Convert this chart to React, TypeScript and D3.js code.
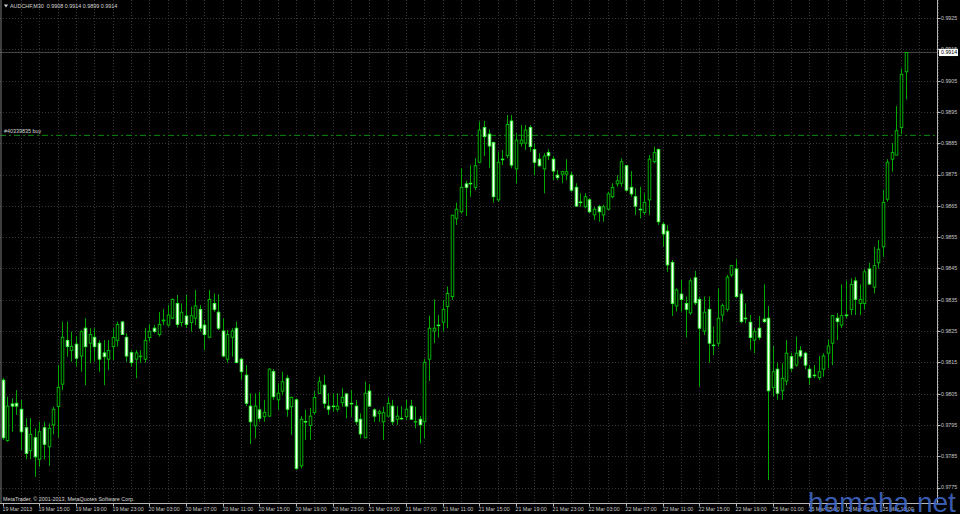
import React from 'react';
import * as d3 from 'd3';

const titleText = 'AUDCHF,M30  0.9908 0.9914 0.9899 0.9914';
const copyrightText = 'MetaTrader, © 2001-2013, MetaQuotes Software Corp.';
const orderLabel = '#40339835 buy';
const orderPrice = 0.98875;
const currentPrice = 0.9914;
const watermark = 'hamaha.net';

const priceTicks = [0.9775, 0.9785, 0.9795, 0.9805, 0.9815, 0.9825, 0.9835, 0.9845, 0.9855, 0.9865, 0.9875, 0.9885, 0.9895, 0.9905, 0.9915, 0.9925];

const timeLabels = ['19 Mar 2013', '19 Mar 15:00', '19 Mar 19:00', '19 Mar 23:00', '20 Mar 03:00', '20 Mar 07:00', '20 Mar 11:00', '20 Mar 15:00', '20 Mar 19:00', '20 Mar 23:00', '21 Mar 03:00', '21 Mar 07:00', '21 Mar 11:00', '21 Mar 15:00', '21 Mar 19:00', '21 Mar 23:00', '22 Mar 03:00', '22 Mar 07:00', '22 Mar 11:00', '22 Mar 15:00', '22 Mar 19:00', '25 Mar 01:00', '25 Mar 05:00', '25 Mar 09:00', '25 Mar 13:00'];
const timeLabelBars = [0, 8, 16, 24, 32, 40, 48, 56, 64, 72, 80, 88, 96, 104, 112, 120, 128, 136, 144, 152, 160, 168, 176, 184, 192];

const opens = [0.98093,0.97900,0.98017,0.98019,0.98000,0.97941,0.97868,0.97909,0.97840,0.97941,
0.97880,0.97950,0.98009,0.98080,0.98220,0.98188,0.98208,0.98170,0.98259,0.98211,
0.98230,0.98211,0.98180,0.98160,0.98200,0.98220,0.98279,0.98230,0.98181,0.98160,
0.98168,0.98160,0.98229,0.98259,0.98239,0.98282,0.98269,0.98291,0.98338,0.98277,
0.98298,0.98277,0.98291,0.98319,0.98269,0.98230,0.98338,0.98310,0.98250,0.98160,
0.98230,0.98259,0.98160,0.98109,0.98010,0.97947,0.97998,0.97976,0.97978,0.98120,
0.98030,0.98058,0.98099,0.98008,0.98030,0.97819,0.97961,0.97948,0.97990,0.98051,
0.98077,0.98010,0.98010,0.98000,0.98021,0.98049,0.98019,0.98010,0.97968,0.97909,
0.98058,0.97998,0.97986,0.97960,0.97978,0.98010,0.97968,0.97971,0.97976,0.98010,
0.97960,0.97968,0.97960,0.98160,0.98250,0.98269,0.98278,0.98328,0.98360,0.98610,
0.98631,0.98720,0.98722,0.98709,0.98789,0.98900,0.98879,0.98852,0.98669,0.98799,
0.98810,0.98921,0.98768,0.98850,0.98850,0.98900,0.98830,0.98799,0.98768,0.98820,
0.98799,0.98748,0.98751,0.98751,0.98748,0.98709,0.98662,0.98647,0.98669,0.98621,
0.98647,0.98621,0.98639,0.98679,0.98720,0.98722,0.98778,0.98709,0.98679,0.98639,
0.98629,0.98669,0.98791,0.98830,0.98591,0.98569,0.98469,0.98330,0.98368,0.98338,
0.98308,0.98420,0.98351,0.98250,0.98319,0.98205,0.98211,0.98301,0.98319,0.98429,
0.98448,0.98368,0.98291,0.98278,0.98221,0.98259,0.98288,0.98291,0.98069,0.98128,
0.98059,0.98090,0.98168,0.98141,0.98187,0.98179,0.98128,0.98109,0.98101,0.98128,
0.98179,0.98211,0.98291,0.98269,0.98301,0.98319,0.98410,0.98338,0.98338,0.98448,
0.98390,0.98468,0.98519,0.98671,0.98799,0.98812,0.98900,0.99078];

const highs = [0.98100,0.98040,0.98035,0.98061,0.98030,0.97971,0.97972,0.97939,0.97960,0.97960,
0.97955,0.98008,0.98141,0.98280,0.98280,0.98248,0.98234,0.98253,0.98291,0.98259,
0.98259,0.98221,0.98221,0.98221,0.98259,0.98280,0.98282,0.98243,0.98189,0.98189,
0.98189,0.98259,0.98271,0.98269,0.98311,0.98320,0.98333,0.98354,0.98365,0.98338,
0.98365,0.98328,0.98381,0.98333,0.98285,0.98381,0.98370,0.98367,0.98291,0.98253,
0.98259,0.98280,0.98163,0.98141,0.98051,0.98051,0.98056,0.98030,0.98131,0.98128,
0.98083,0.98120,0.98109,0.98040,0.98035,0.97978,0.97998,0.98004,0.98058,0.98104,
0.98109,0.98051,0.98051,0.98051,0.98067,0.98051,0.98061,0.98030,0.97987,0.98088,
0.98081,0.98003,0.97998,0.98008,0.98038,0.98030,0.98010,0.98010,0.98030,0.98030,
0.98008,0.97978,0.98161,0.98299,0.98351,0.98301,0.98349,0.98392,0.98621,0.98660,
0.98770,0.98730,0.98780,0.98802,0.98919,0.98922,0.98894,0.98855,0.98823,0.98828,
0.98940,0.98940,0.98882,0.98908,0.98908,0.98908,0.98850,0.98818,0.98818,0.98830,
0.98809,0.98764,0.98761,0.98799,0.98759,0.98722,0.98690,0.98690,0.98674,0.98647,
0.98653,0.98653,0.98695,0.98722,0.98748,0.98802,0.98780,0.98761,0.98706,0.98711,
0.98690,0.98812,0.98839,0.98833,0.98599,0.98589,0.98477,0.98386,0.98413,0.98360,
0.98418,0.98442,0.98360,0.98360,0.98360,0.98264,0.98386,0.98338,0.98429,0.98461,
0.98479,0.98381,0.98338,0.98301,0.98259,0.98298,0.98399,0.98330,0.98202,0.98149,
0.98147,0.98221,0.98181,0.98232,0.98202,0.98184,0.98141,0.98141,0.98170,0.98179,
0.98223,0.98301,0.98307,0.98399,0.98411,0.98418,0.98422,0.98399,0.98447,0.98468,
0.98519,0.98541,0.98700,0.98799,0.98850,0.98969,0.99089,0.99140];

const lows = [0.97902,0.97896,0.97928,0.97982,0.97870,0.97840,0.97841,0.97784,0.97816,0.97840,
0.97819,0.97920,0.97909,0.98061,0.98168,0.98152,0.98136,0.98120,0.98077,0.98147,
0.98152,0.98120,0.98077,0.98125,0.98157,0.98200,0.98237,0.98152,0.98136,0.98099,
0.98149,0.98149,0.98216,0.98243,0.98232,0.98269,0.98264,0.98288,0.98261,0.98264,
0.98259,0.98248,0.98269,0.98248,0.98189,0.98227,0.98312,0.98253,0.98168,0.98149,
0.98168,0.98147,0.98093,0.98010,0.97889,0.97907,0.97960,0.97960,0.97976,0.98030,
0.97998,0.98045,0.97976,0.97918,0.97806,0.97811,0.97902,0.97902,0.97982,0.98050,
0.98003,0.97982,0.97992,0.97992,0.98008,0.97971,0.97976,0.97950,0.97907,0.97907,
0.98008,0.97960,0.97960,0.97902,0.97976,0.97950,0.97950,0.97966,0.97966,0.97966,
0.97939,0.97891,0.97907,0.98091,0.98211,0.98229,0.98248,0.98259,0.98349,0.98589,
0.98626,0.98617,0.98679,0.98700,0.98786,0.98809,0.98770,0.98660,0.98663,0.98780,
0.98802,0.98770,0.98722,0.98839,0.98828,0.98823,0.98748,0.98775,0.98690,0.98796,
0.98732,0.98732,0.98722,0.98732,0.98695,0.98647,0.98647,0.98642,0.98626,0.98605,
0.98599,0.98599,0.98637,0.98674,0.98711,0.98711,0.98695,0.98679,0.98621,0.98610,
0.98621,0.98621,0.98786,0.98589,0.98519,0.98439,0.98298,0.98312,0.98312,0.98229,
0.98301,0.98333,0.98072,0.98237,0.98149,0.98173,0.98200,0.98280,0.98312,0.98423,
0.98354,0.98275,0.98275,0.98189,0.98179,0.98221,0.98275,0.97774,0.98040,0.98030,
0.98030,0.98077,0.98120,0.98136,0.98163,0.98128,0.98077,0.98099,0.98093,0.98104,
0.98131,0.98141,0.98221,0.98259,0.98291,0.98301,0.98301,0.98301,0.98319,0.98397,
0.98370,0.98450,0.98487,0.98663,0.98759,0.98812,0.98879,0.98990];

const closes = [0.97909,0.98010,0.98010,0.98010,0.97928,0.97859,0.97920,0.97848,0.97928,0.97888,
0.97939,0.98000,0.98070,0.98230,0.98200,0.98201,0.98163,0.98248,0.98200,0.98239,
0.98200,0.98160,0.98168,0.98188,0.98229,0.98271,0.98239,0.98170,0.98149,0.98180,
0.98170,0.98220,0.98249,0.98249,0.98271,0.98285,0.98301,0.98351,0.98271,0.98310,
0.98271,0.98299,0.98330,0.98259,0.98239,0.98351,0.98319,0.98259,0.98170,0.98239,
0.98250,0.98149,0.98120,0.98019,0.97960,0.98010,0.97971,0.97990,0.98128,0.98040,
0.98051,0.98088,0.98000,0.98038,0.97811,0.97968,0.97960,0.97978,0.98038,0.98088,
0.98019,0.98000,0.98009,0.98010,0.98038,0.98010,0.98018,0.97960,0.97921,0.98051,
0.98010,0.97978,0.97992,0.97989,0.98019,0.97960,0.97978,0.97970,0.98000,0.97968,
0.97961,0.97950,0.98150,0.98259,0.98259,0.98268,0.98319,0.98370,0.98620,0.98639,
0.98709,0.98709,0.98721,0.98778,0.98892,0.98871,0.98841,0.98679,0.98789,0.98798,
0.98910,0.98780,0.98860,0.98860,0.98892,0.98839,0.98789,0.98778,0.98809,0.98810,
0.98761,0.98740,0.98759,0.98759,0.98700,0.98649,0.98661,0.98679,0.98631,0.98639,
0.98631,0.98647,0.98688,0.98709,0.98730,0.98791,0.98700,0.98688,0.98649,0.98638,
0.98661,0.98799,0.98820,0.98599,0.98560,0.98461,0.98338,0.98381,0.98351,0.98319,
0.98410,0.98340,0.98259,0.98310,0.98211,0.98204,0.98291,0.98331,0.98422,0.98459,
0.98360,0.98280,0.98290,0.98229,0.98248,0.98230,0.98280,0.98059,0.98120,0.98051,
0.98099,0.98179,0.98131,0.98179,0.98170,0.98141,0.98101,0.98108,0.98120,0.98170,
0.98202,0.98299,0.98280,0.98299,0.98300,0.98399,0.98351,0.98351,0.98439,0.98400,
0.98459,0.98511,0.98661,0.98789,0.98820,0.98890,0.99070,0.99140];

const W = 960;
const H = 514;
const plotRight = 937.5;
const plotBottom = 503.5;
const FONT = 'Liberation Sans, Arial, sans-serif';

export default function App() {
  const n = opens.length;
  const x = d3.scaleLinear().domain([0, n - 1]).range([2.7, 905.6]);
  const y = d3.scaleLinear().domain([0.9775, 0.9925]).range([487.5, 18]);
  const gridBars = d3.range(4, n + 8, 4);
  const bodyW = 2.6;

  return (
    <svg width={W} height={H} style={{ position: 'absolute', left: 0, top: 0, display: 'block', background: '#000' }}>
      <rect x={0} y={0} width={W} height={H} fill="#000" />
      {priceTicks.map((p) => (
        <line key={'hg' + p} x1={0} x2={plotRight} y1={Math.round(y(p)) + 0.5} y2={Math.round(y(p)) + 0.5}
          stroke="#363636" strokeWidth={1} strokeDasharray="1,2" />
      ))}
      {gridBars.map((b) => (
        <line key={'vg' + b} x1={Math.round(x(b)) + 0.5} x2={Math.round(x(b)) + 0.5} y1={0} y2={plotBottom}
          stroke="#363636" strokeWidth={1} strokeDasharray="1,2" />
      ))}
      <line x1={0} x2={plotRight} y1={y(currentPrice)} y2={y(currentPrice)} stroke="#4a4a4a" strokeWidth={1} />
      <line x1={0} x2={plotRight} y1={y(orderPrice)} y2={y(orderPrice)} stroke="#0a8a0a" strokeWidth={1} strokeDasharray="6,3,2,3" />
      <text x={4} y={y(orderPrice) - 2} fill="#d8d8d8" fontSize={5.4} fontFamily={FONT}>{orderLabel}</text>
      {opens.map((o, i) => {
        const c = closes[i];
        const cx = Math.round(x(i)) + 0.5;
        const bull = c >= o;
        const top = y(Math.max(o, c));
        const bot = y(Math.min(o, c));
        return (
          <g key={i}>
            <line x1={cx} x2={cx} y1={y(highs[i])} y2={y(lows[i])} stroke="#00a800" strokeWidth={1} />
            <rect x={cx - bodyW / 2} y={top} width={bodyW} height={Math.max(0.6, bot - top)}
              fill={bull ? '#000' : '#ffffff'} stroke={bull ? '#00c000' : '#33ff33'} strokeWidth={0.9} />
          </g>
        );
      })}
      <line x1={plotRight} x2={plotRight} y1={0} y2={plotBottom} stroke="#b8b8b8" strokeWidth={1} />
      <line x1={0} x2={plotRight} y1={plotBottom} y2={plotBottom} stroke="#b8b8b8" strokeWidth={1} />
      <line x1={1} x2={1} y1={0} y2={plotBottom} stroke="#7a7a7a" strokeWidth={1} />
      {priceTicks.map((p) => (
        <g key={'pt' + p}>
          <line x1={plotRight} x2={plotRight + 3} y1={Math.round(y(p)) + 0.5} y2={Math.round(y(p)) + 0.5} stroke="#b8b8b8" />
          <text x={941} y={y(p) + 1.9} fill="#c8c8c8" fontSize={5.3} fontFamily={FONT}>{p.toFixed(4)}</text>
        </g>
      ))}
      {timeLabels.map((t, k) => {
        const tx = Math.round(x(timeLabelBars[k])) + 0.5;
        return (
          <g key={'tl' + k}>
            <line x1={tx} x2={tx} y1={plotBottom} y2={plotBottom + 3} stroke="#b8b8b8" />
            <text x={tx - 1} y={511} fill="#c8c8c8" fontSize={5.3} fontFamily={FONT}>{t}</text>
          </g>
        );
      })}
      <rect x={939} y={y(currentPrice) - 3.6} width={19} height={7.2} fill="#ffffff" />
      <text x={941} y={y(currentPrice) + 1.9} fill="#000" fontSize={5.3} fontFamily={FONT}>{currentPrice.toFixed(4)}</text>
      <path d="M4,4.5 L8,4.5 L6,7.5 Z" fill="#d8d8d8" />
      <text x={10} y={7.8} fill="#d8d8d8" fontSize={5.4} fontFamily={FONT} xmlSpace="preserve">{titleText}</text>
      <text x={3} y={500.5} fill="#d8d8d8" fontSize={5.4} fontFamily={FONT}>{copyrightText}</text>
      <text x={808} y={512} fill="#4169c8" fillOpacity={0.9} fontSize={28} fontFamily={FONT}>{watermark}</text>
    </svg>
  );
}
